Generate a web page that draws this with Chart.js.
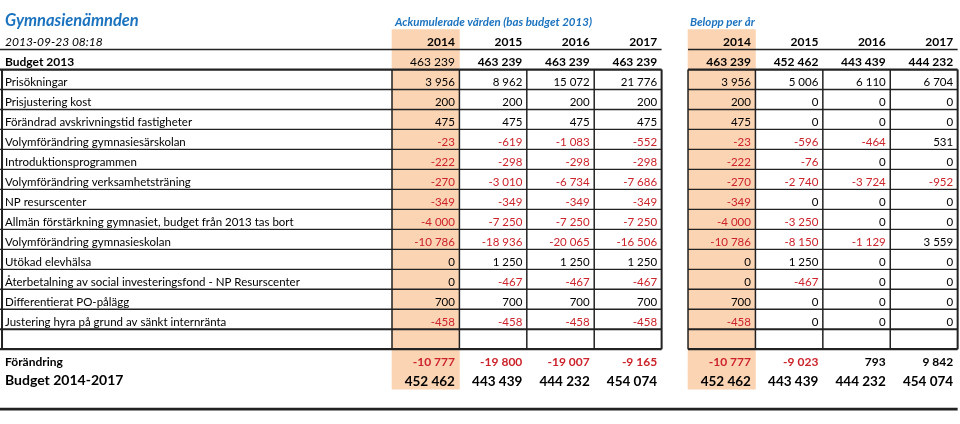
<!DOCTYPE html>
<html>
<head>
<meta charset="utf-8">
<script src="https://cdn.jsdelivr.net/npm/chart.js@4.4.0/dist/chart.umd.min.js"></script>
<title>Gymnasienämnden</title>
<style>
  html, body { margin: 0; padding: 0; background: #fff; }
  #wrap { width: 960px; height: 424px; }
</style>
</head>
<body>
<div id="wrap"><canvas id="tbl" width="960" height="424"></canvas></div>
<script>
const title = 'Gymnasienämnden';
const stamp = '2013-09-23 08:18';
const accHeading = 'Ackumulerade värden (bas budget 2013)';
const yearHeading = 'Belopp per år';
const years = ['2014', '2015', '2016', '2017'];

const budget2013Acc = [463239, 463239, 463239, 463239];
const budget2013Year = [463239, 452462, 443439, 444232];

const rowLabels = [
  'Prisökningar',
  'Prisjustering kost',
  'Förändrad avskrivningstid fastigheter',
  'Volymförändring gymnasiesärskolan',
  'Introduktionsprogrammen',
  'Volymförändring verksamhetsträning',
  'NP resurscenter',
  'Allmän förstärkning gymnasiet, budget från 2013 tas bort',
  'Volymförändring gymnasieskolan',
  'Utökad elevhälsa',
  'Återbetalning av social investeringsfond - NP Resurscenter',
  'Differentierat PO-pålägg',
  'Justering hyra på grund av sänkt internränta'
];
const accValues = [
  [3956, 8962, 15072, 21776],
  [200, 200, 200, 200],
  [475, 475, 475, 475],
  [-23, -619, -1083, -552],
  [-222, -298, -298, -298],
  [-270, -3010, -6734, -7686],
  [-349, -349, -349, -349],
  [-4000, -7250, -7250, -7250],
  [-10786, -18936, -20065, -16506],
  [0, 1250, 1250, 1250],
  [0, -467, -467, -467],
  [700, 700, 700, 700],
  [-458, -458, -458, -458]
];
const yearValues = [
  [3956, 5006, 6110, 6704],
  [200, 0, 0, 0],
  [475, 0, 0, 0],
  [-23, -596, -464, 531],
  [-222, -76, 0, 0],
  [-270, -2740, -3724, -952],
  [-349, 0, 0, 0],
  [-4000, -3250, 0, 0],
  [-10786, -8150, -1129, 3559],
  [0, 1250, 0, 0],
  [0, -467, 0, 0],
  [700, 0, 0, 0],
  [-458, 0, 0, 0]
];
const changeAcc = [-10777, -19800, -19007, -9165];
const changeYear = [-10777, -9023, 793, 9842];
const totalAcc = [452462, 443439, 444232, 454074];
const totalYear = [452462, 443439, 444232, 454074];

// --- layout (in scale units: one unit = one number column / one row) ---
const ACC0 = 5.816;    // left edge of the accumulated block
const YEAR0 = 10.208;  // left edge of the per-year block
const ROW_HEAD = 1, ROW_BUDGET = 2, ROW_DATA = 3;
const ROW_EMPTY = ROW_DATA + rowLabels.length;
const ROW_CHANGE = ROW_EMPTY + 1, ROW_TOTAL = ROW_CHANGE + 1, ROW_END = ROW_TOTAL + 1;

const BLUE = '#1b73bf';
const RED = '#cc2229';
const INK = '#000';
const LINE = '#222';
const ORANGE = '#fbd4b4';
const FONT = 'Lato, "Open Sans", sans-serif';

const fmt = n => (n < 0 ? '-' : '') + String(Math.abs(n)).replace(/\B(?=(\d{3})+(?!\d))/g, ' ');

const shadedRows = [];
for (let r = ROW_HEAD; r <= ROW_TOTAL; r++) shadedRows.push(r);

const tablePlugin = {
  id: 'table',
  afterDatasetsDraw(chart) {
    const { ctx, scales: { x, y } } = chart;
    const top = r => y.getPixelForValue(r - 0.5);
    const bot = r => y.getPixelForValue(r + 0.5);
    const px = v => x.getPixelForValue(v);
    const left = px(0);

    ctx.save();
    ctx.strokeStyle = LINE;
    const hline = (yy, a, b, w) => {
      ctx.lineWidth = w; ctx.beginPath(); ctx.moveTo(a, yy); ctx.lineTo(b, yy); ctx.stroke();
    };
    const vline = (xx, a, b, w) => {
      ctx.lineWidth = w; ctx.beginPath(); ctx.moveTo(xx, a); ctx.lineTo(xx, b); ctx.stroke();
    };
    const both = (yy, w) => {
      hline(yy, left, px(ACC0 + 4), w);
      hline(yy, px(YEAR0), px(YEAR0 + 4), w);
    };

    both(bot(ROW_HEAD), 1.6);
    both(bot(ROW_BUDGET), 2.2);
    for (let r = ROW_DATA; r < ROW_EMPTY; r++) both(bot(r), r === ROW_EMPTY - 1 ? 2 : 1.3);
    both(bot(ROW_EMPTY), 2.2);
    hline(bot(ROW_END), left, px(YEAR0 + 4), 2.8);

    const y1 = top(ROW_DATA), y2 = bot(ROW_EMPTY);
    vline(px(0.03), y1, y2, 2);
    for (let j = 0; j <= 4; j++) {
      const w = j === 4 ? 2 : 1.5;
      vline(px(ACC0 + j), y1, y2, w);
      vline(px(YEAR0 + j), y1, y2, w);
    }

    // text
    ctx.textBaseline = 'alphabetic';
    const text = (s, xx, yy, font, color, align) => {
      ctx.font = font; ctx.fillStyle = color; ctx.textAlign = align || 'left';
      ctx.fillText(s, xx, yy);
    };
    const nums = (vals, r, font, bold0, off) => {
      vals.forEach((v, j) => {
        const f = (bold0 === false && j === 0) ? font.replace('bold ', '') : font;
        text(fmt(v), px(off + j + 1) - 4.5, bot(r) - 3.5, f, v < 0 ? RED : INK, 'right');
      });
    };

    text(title, left + 5, bot(0) - 4, 'italic bold 16.5px ' + FONT, BLUE);
    text(accHeading, px(ACC0) + 3, bot(0) - 3.5, 'italic bold 11.5px ' + FONT, BLUE);
    text(yearHeading, px(YEAR0) + 2, bot(0) - 3.5, 'italic bold 11.5px ' + FONT, BLUE);

    text(stamp, left + 5, bot(ROW_HEAD) - 3.5, 'italic 12px ' + FONT, INK);
    years.forEach((yr, j) => {
      text(yr, px(ACC0 + j + 1) - 4.5, bot(ROW_HEAD) - 3.5, 'bold 12px ' + FONT, INK, 'right');
      text(yr, px(YEAR0 + j + 1) - 4.5, bot(ROW_HEAD) - 3.5, 'bold 12px ' + FONT, INK, 'right');
    });

    text('Budget 2013', left + 5, bot(ROW_BUDGET) - 3.5, 'bold 12px ' + FONT, INK);
    nums(budget2013Acc, ROW_BUDGET, 'bold 12px ' + FONT, false, ACC0);
    nums(budget2013Year, ROW_BUDGET, 'bold 12px ' + FONT, true, YEAR0);

    rowLabels.forEach((lab, i) => {
      const r = ROW_DATA + i;
      text(lab, left + 5, bot(r) - 3.5, '11.5px ' + FONT, INK);
      nums(accValues[i], r, '11.5px ' + FONT, true, ACC0);
      nums(yearValues[i], r, '11.5px ' + FONT, true, YEAR0);
    });

    text('Förändring', left + 5, bot(ROW_CHANGE) - 3.5, 'bold 12px ' + FONT, INK);
    nums(changeAcc, ROW_CHANGE, 'bold 12px ' + FONT, true, ACC0);
    nums(changeYear, ROW_CHANGE, 'bold 12px ' + FONT, true, YEAR0);

    text('Budget 2014-2017', left + 5, bot(ROW_TOTAL) - 4.5, 'bold 14px ' + FONT, INK);
    nums(totalAcc, ROW_TOTAL, 'bold 13.5px ' + FONT, true, ACC0);
    nums(totalYear, ROW_TOTAL, 'bold 13.5px ' + FONT, true, YEAR0);

    ctx.restore();
  }
};

new Chart(document.getElementById('tbl'), {
  type: 'bar',
  data: {
    datasets: [
      {
        label: 'Ackumulerade 2014',
        data: shadedRows.map(r => ({ y: r, x: [ACC0, ACC0 + 1] })),
        backgroundColor: ORANGE,
        borderWidth: 0,
        grouped: false,
        barPercentage: 1,
        categoryPercentage: 1
      },
      {
        label: 'Belopp 2014',
        data: shadedRows.map(r => ({ y: r, x: [YEAR0, YEAR0 + 1] })),
        backgroundColor: ORANGE,
        borderWidth: 0,
        grouped: false,
        barPercentage: 1,
        categoryPercentage: 1
      }
    ]
  },
  options: {
    indexAxis: 'y',
    responsive: false,
    animation: false,
    devicePixelRatio: 1,
    layout: { padding: 0 },
    scales: {
      x: { type: 'linear', min: 0, max: 14.243, display: false },
      y: {
        type: 'linear', min: -0.391, max: 19.656, reverse: true, display: false,
        afterBuildTicks: s => { s.ticks = shadedRows.map(v => ({ value: v })); }
      }
    },
    plugins: { legend: { display: false }, tooltip: { enabled: false } }
  },
  plugins: [tablePlugin]
});
</script>
</body>
</html>
